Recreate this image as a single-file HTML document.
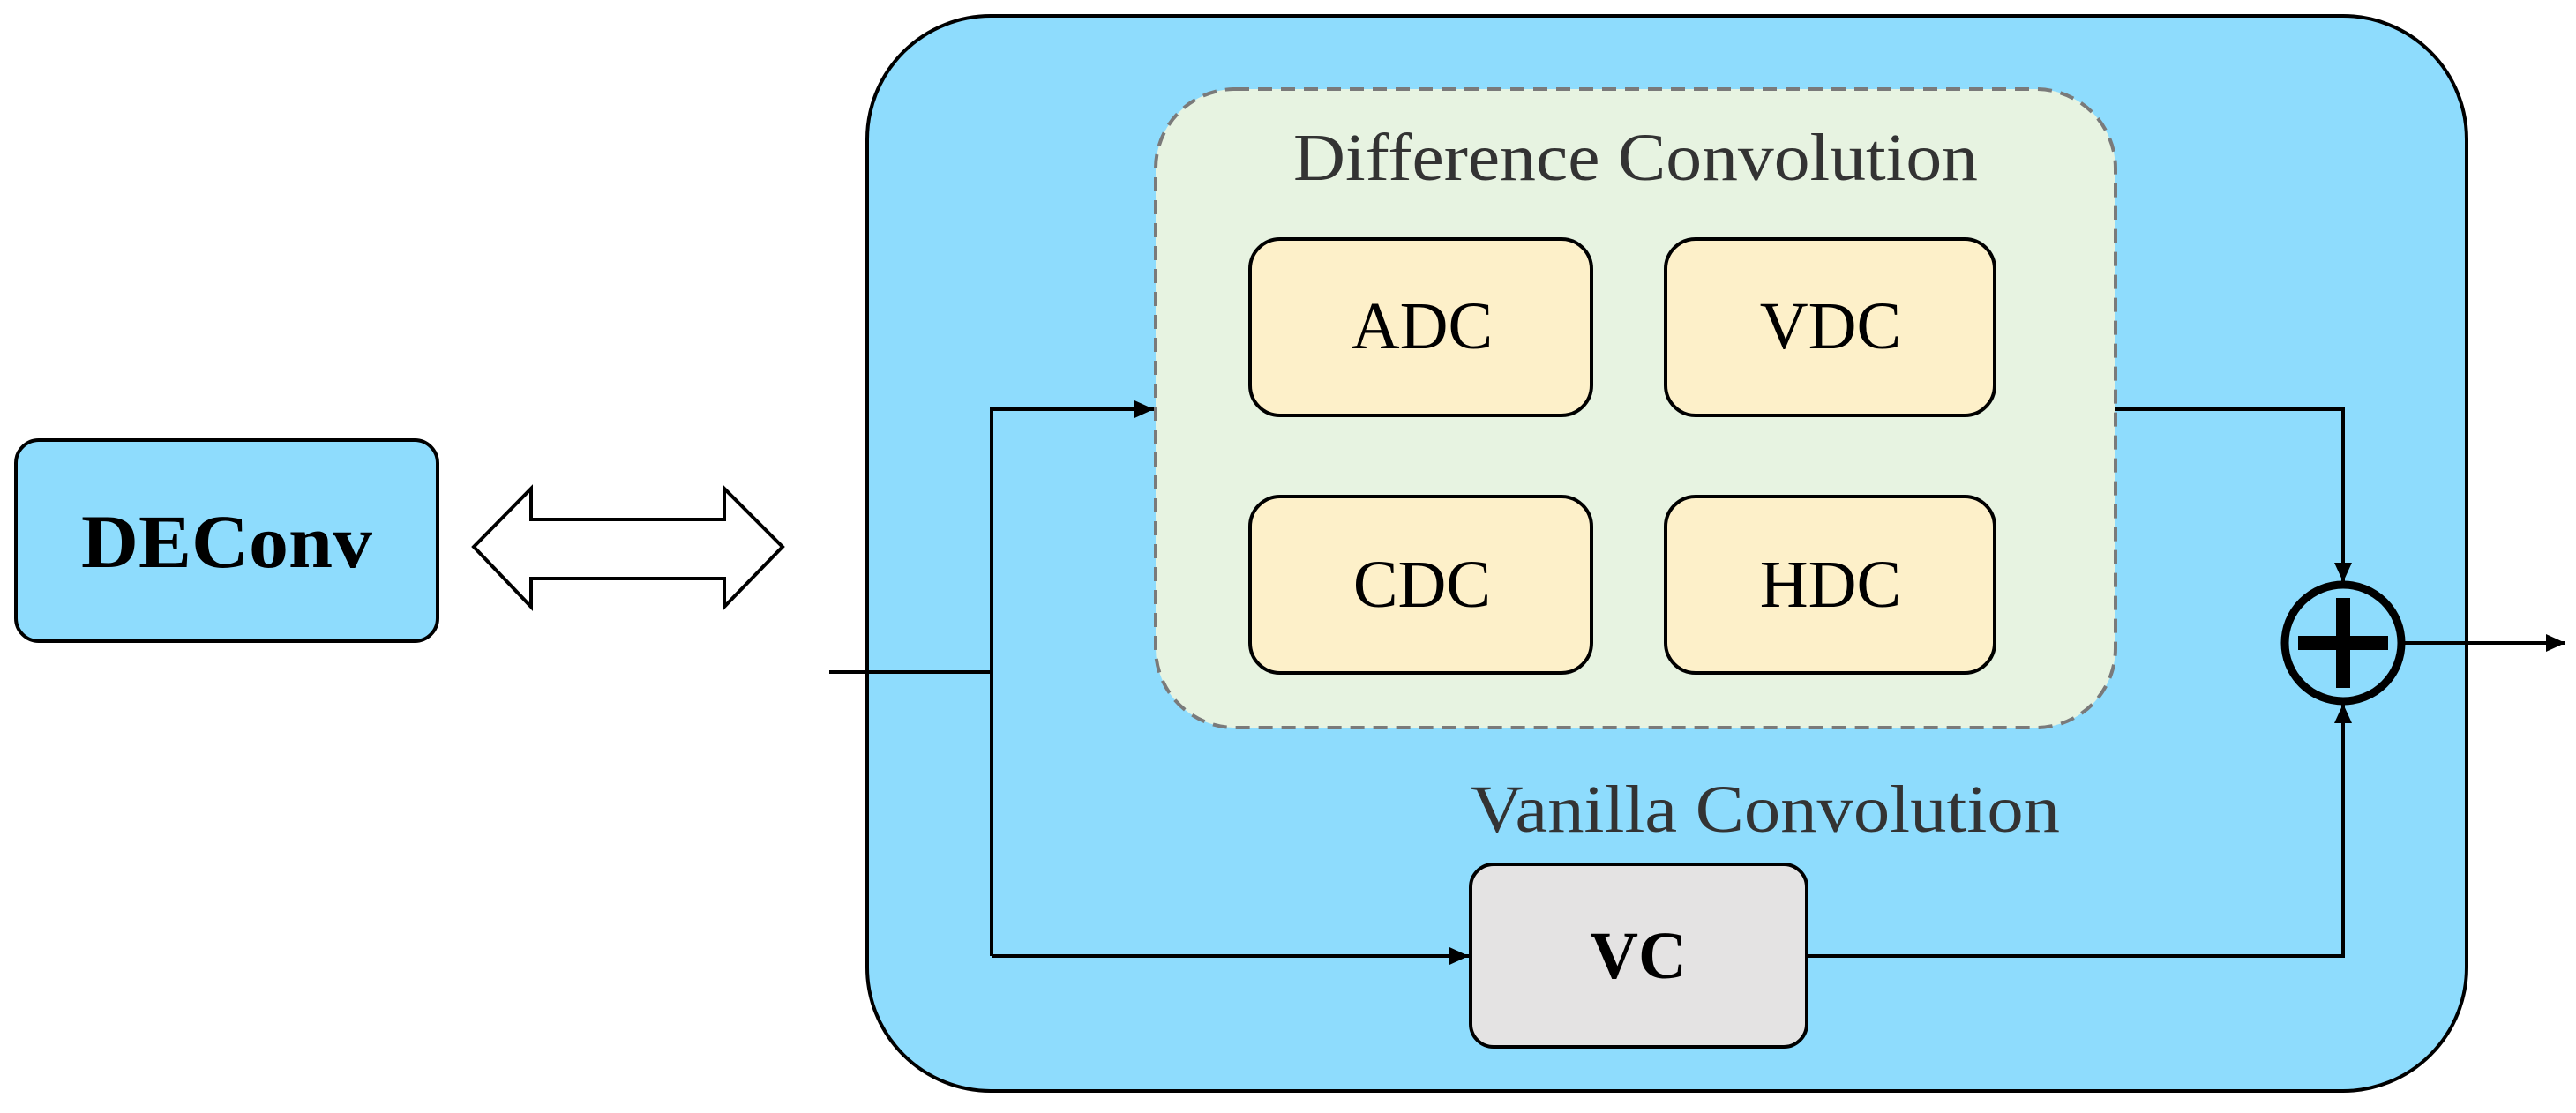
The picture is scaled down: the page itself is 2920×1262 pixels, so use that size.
<!DOCTYPE html>
<html><head><meta charset="utf-8"><style>html,body{margin:0;padding:0;background:#fff}svg{display:block}</style></head>
<body>
<svg width="2920" height="1262" viewBox="0 0 2920 1262" xmlns="http://www.w3.org/2000/svg" font-family="Liberation Serif, serif">
<defs>
<marker id="ah" markerWidth="22" markerHeight="20" refX="22" refY="10" orient="auto" markerUnits="userSpaceOnUse" viewBox="0 0 22 20">
<path d="M0,0 L22,10 L0,20 z" fill="#000"/></marker>
</defs>
<rect x="18" y="499" width="478" height="228" rx="26" fill="#8edcfd" stroke="#000" stroke-width="4"/>
<text x="257" y="643" font-size="86" font-weight="bold" text-anchor="middle" textLength="330" lengthAdjust="spacingAndGlyphs">DEConv</text>
<path d="M537,620 L602,554 L602,589 L821,589 L821,554 L887,620 L821,688 L821,656 L602,656 L602,688 Z" fill="#fff" stroke="#000" stroke-width="4" stroke-linejoin="miter"/>
<rect x="983" y="18" width="1813" height="1219" rx="140" fill="#8edcfd" stroke="#000" stroke-width="4"/>
<rect x="1310" y="101" width="1088" height="724" rx="90" fill="#e7f3e1" stroke="#7a7a7a" stroke-width="4" stroke-dasharray="16,10"/>
<text x="1854" y="204" font-size="76" fill="#333" text-anchor="middle" textLength="776" lengthAdjust="spacingAndGlyphs">Difference Convolution</text>
<g fill="#fdf0c9" stroke="#000" stroke-width="4">
<rect x="1417" y="271" width="387" height="200" rx="34"/>
<rect x="1888" y="271" width="373" height="200" rx="34"/>
<rect x="1417" y="563" width="387" height="200" rx="34"/>
<rect x="1888" y="563" width="373" height="200" rx="34"/>
</g>
<g font-size="76" text-anchor="middle">
<text x="1612" y="395">ADC</text>
<text x="2075" y="395">VDC</text>
<text x="1612" y="688">CDC</text>
<text x="2075" y="688">HDC</text>
</g>
<g stroke="#000" stroke-width="4" fill="none">
<path d="M940,762 L1124,762"/>
<path d="M1124,1084 L1124,464 L1308,464" marker-end="url(#ah)"/>
<path d="M1124,1084 L1665,1084" marker-end="url(#ah)"/>
<path d="M2398,464 L2656,464 L2656,660" marker-end="url(#ah)"/>
<path d="M2048,1084 L2656,1084 L2656,798" marker-end="url(#ah)"/>
<path d="M2726,729 L2908,729" marker-end="url(#ah)"/>
</g>
<circle cx="2656" cy="729" r="66" fill="none" stroke="#000" stroke-width="9"/>
<path d="M2605,729 L2707,729 M2656,678 L2656,780" stroke="#000" stroke-width="16"/>
<text x="2001" y="943" font-size="76" fill="#333" text-anchor="middle" textLength="668" lengthAdjust="spacingAndGlyphs">Vanilla Convolution</text>
<rect x="1667" y="980" width="381" height="207" rx="26" fill="#e4e3e3" stroke="#000" stroke-width="4"/>
<text x="1857" y="1109" font-size="76" font-weight="bold" text-anchor="middle">VC</text>
</svg>
</body></html>
